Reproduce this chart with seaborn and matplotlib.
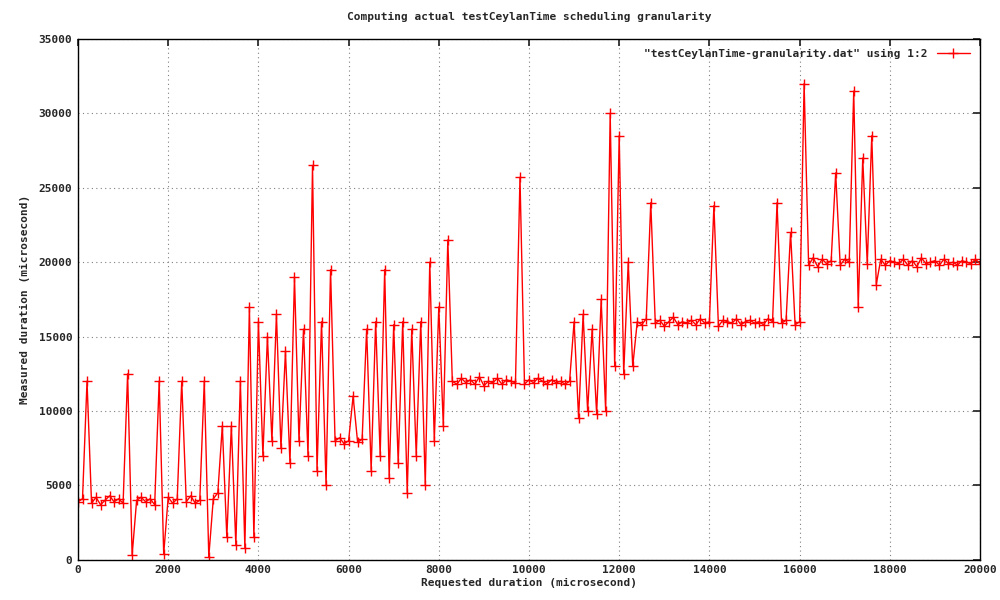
import numpy as np
import pandas as pd
import matplotlib
matplotlib.use("Agg")
import matplotlib.pyplot as plt
import seaborn as sns

requested = list(range(0, 20001, 100))
measured = (
    [3900,4100,12000,3800,4200,3700,4000,4300,3900,4100,3800,12500,300,4000,4200,3900,4100,3700,12000,400,4200,3800,4100,12000,3900,4300,3800,4000,12000,200,4100,4500,9000]
    + [1500,9000,1000,12000,800,17000,1500]
    + [16000,7000,15000,8000,16500,7500,14000,6500,19000,8000,15500,7000,26500,6000,16000,5000,19500,8000]
    + [8200,7800,8000,11000,7900,8100]
    + [15500,6000,16000,7000,19500,5500,15800,6500,16000,4500,15500,7000,16000,5000,20000,8000,17000,9000,21500,12000]
    + [11800,12200,11900,12100,11800,12300,11700,12000,11900,12200,11800,12100,12000,11900,25700,11800,12100,11900,12200,12000,11800,12100,11900,12000,11800,12000]
    + [16000,9500,16500,10000,15500,9800,17500,10000,30000,13000,28500,12500,20000,13000]
    + [16000,15800,16200,24000,15900,16100,15700,16000,16300,15800,16000,15900,16100,15800,16200,15900,16000,23800,15700,16100,16000,15900,16200,15800,16000,16100,15900,16000,15800,16200,16000,24000,15900,16100,22000,15800,16000]
    + [32000,19800,20300,19700,20200,19900,20100,26000,19800,20200,20000,31500,17000,27000,19900,28500,18500,20200,19800,20100,20000,19900,20200,19800,20100,19700,20300,19900,20000,20100,19800,20200,19900,20000,19800,20100,20000,19900,20200,19900]
)
df = pd.DataFrame({"x": requested, "y": measured})

sns.set_theme(style="white")
plt.rcParams["font.family"] = ["DejaVu Sans Mono"]
fig = plt.figure(figsize=(10, 6), dpi=100)
ax = fig.add_axes([0.078, 0.067, 0.902, 0.868])
sns.lineplot(data=df, x="x", y="y", ax=ax, color="red", lw=1, marker="+",
             markersize=7, markeredgecolor="red", markeredgewidth=1,
             label='"testCeylanTime-granularity.dat" using 1:2')
ax.set_xlim(0, 20000)
ax.set_ylim(0, 35000)
ax.set_xticks(range(0, 20001, 2000))
ax.set_yticks(range(0, 35001, 5000))
ax.grid(True, color="gray", linestyle=(0, (1, 3)), lw=0.8)
for s in ax.spines.values():
    s.set_color("black"); s.set_linewidth(1)
ax.tick_params(direction="in", length=5, labelsize=8, top=True, right=True, pad=4)
for t in ax.get_xticklabels() + ax.get_yticklabels():
    t.set_fontweight("bold")
ax.set_xlabel("Requested duration (microsecond)", fontsize=8, fontweight="bold", labelpad=2)
ax.set_ylabel("Measured duration (microsecond)", fontsize=8, fontweight="bold", labelpad=6)
ax.set_title("Computing actual testCeylanTime scheduling granularity", fontsize=8, fontweight="bold", pad=14)
leg = ax.legend(loc="upper right", frameon=False, fontsize=8, handlelength=3, markerfirst=False)
for t in leg.get_texts():
    t.set_fontweight("bold")
fig.savefig("out.png", dpi=100, facecolor="white")
